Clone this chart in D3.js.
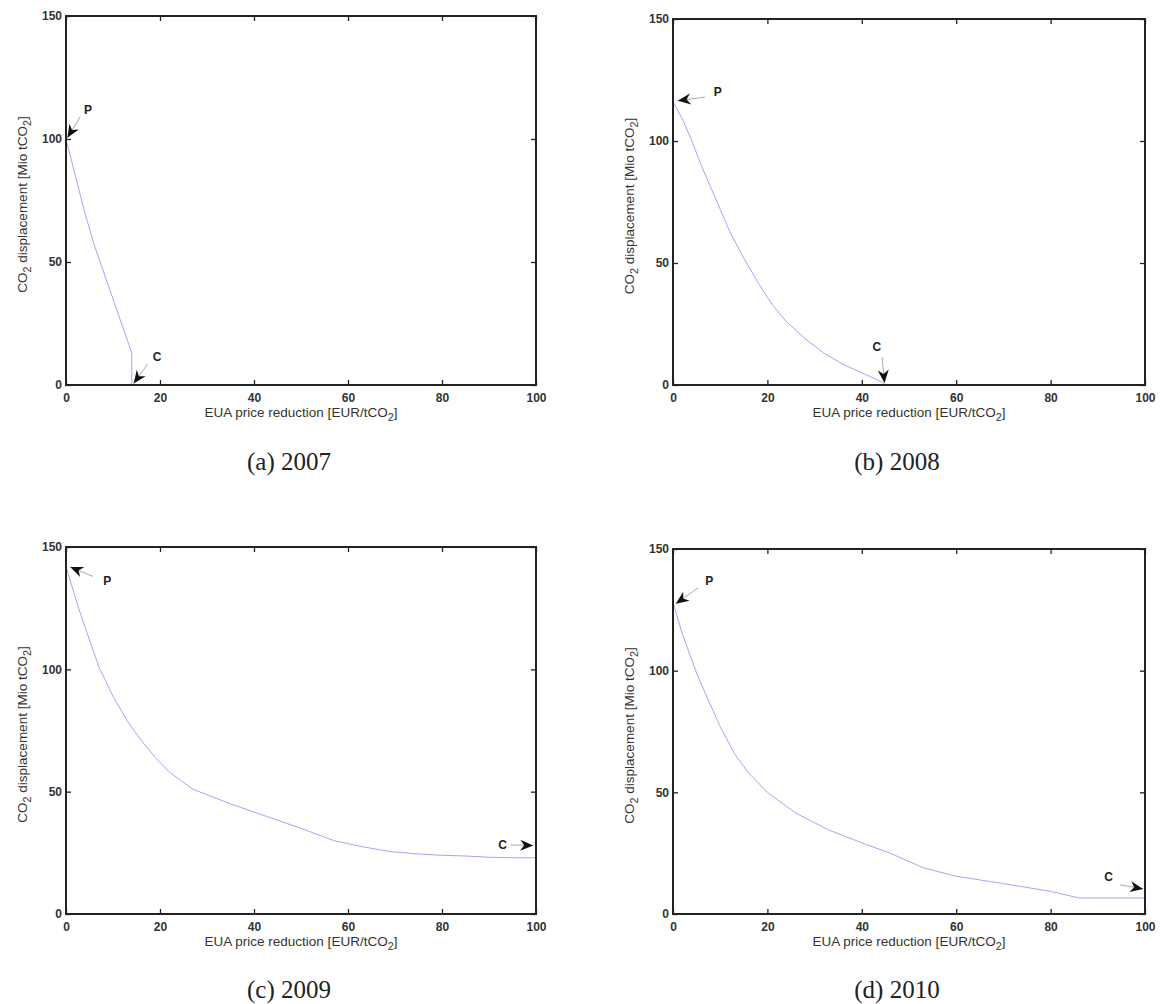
<!DOCTYPE html>
<html>
<head>
<meta charset="utf-8">
<script src="https://cdn.jsdelivr.net/npm/d3@7"></script>
<style>
  body { margin: 0; background: #fff; }
  svg { display: block; }
</style>
</head>
<body>
<svg id="chart" width="1161" height="1004"></svg>
<script>
// data
const xTicks = [0, 20, 40, 60, 80, 100];
const yTicks = [0, 50, 100, 150];
const captions = ['(a) 2007', '(b) 2008', '(c) 2009', '(d) 2010'];

const x2007 = [0, 2, 4, 6, 8, 10, 12, 14, 14];
const y2007 = [100, 85, 70, 57, 46, 35, 24, 13, 0];

const x2008 = [0, 2, 4, 6, 8, 10, 12, 15, 18, 21, 24, 28, 32, 36, 40, 44, 45];
const y2008 = [116, 109, 100, 90, 81, 72, 63, 52, 42, 33, 26, 19, 13, 8.5, 5, 1.5, 0];

const x2009 = [0, 2.5, 5, 7, 10, 13, 16, 19, 22, 27, 35, 41, 50, 57, 63, 69, 75, 80, 85, 90, 95, 100];
const y2009 = [142, 126, 112, 101, 89, 79, 71, 64, 58, 51, 45, 41, 35, 30, 27.5, 25.5, 24.5, 24, 23.7, 23.2, 23, 23];

const x2010 = [0, 2, 5, 7, 10, 13, 16, 20, 26, 33, 41, 46, 53, 60, 70, 80, 86, 100];
const y2010 = [128, 115, 99, 90, 77, 66, 58, 50, 41.5, 34.5, 28.5, 25, 19, 15.5, 12.5, 9.3, 6.6, 6.6];

// annotation arrows: [label x, label y, tail x, tail y, head x, head y] in data units
const notesP = [
  [4.7, 112, 3, 109, 0.3, 100.5],
  [9.5, 120, 6.8, 118, 1.0, 116.5],
  [8.8, 136, 5.7, 138, 0.9, 141.8],
  [7.7, 137, 5.3, 134, 0.6, 127.5]
];
const notesC = [
  [19.4, 11.4, 17.4, 8.6, 14.4, 0.6],
  [43.2, 15.6, 44.3, 11.5, 44.8, 0.8],
  [92.9, 28.4, 94.6, 28.2, 99.4, 28],
  [92.3, 15.4, 94.7, 12, 99.6, 10.3]
];

const series = [[x2007, y2007], [x2008, y2008], [x2009, y2009], [x2010, y2010]];

// panel frames in px
const frames = [
  { left: 66, top: 16, right: 536, bottom: 385, capY: 462 },
  { left: 673, top: 19, right: 1145, bottom: 385, capY: 462 },
  { left: 66, top: 547, right: 536, bottom: 914, capY: 990 },
  { left: 673, top: 549, right: 1145, bottom: 914, capY: 990 }
];

const svg = d3.select('#chart');
const sans = 'Liberation Sans, Arial, Helvetica, sans-serif';

function subText(sel, parts) {
  // parts: [text, isSub]
  parts.forEach(([t, sub]) => {
    const ts = sel.append('tspan').text(t);
    if (sub) ts.attr('font-size', '0.8em').attr('dy', '0.35em');
    else if (sel.node().childNodes.length > 1) ts.attr('dy', '-0.28em');
  });
}

function arrow(g, x, y, n) {
  const [lx, ly, tx, ty, hx, hy] = n;
  const x1 = x(tx), y1 = y(ty), x2 = x(hx), y2 = y(hy);
  const ang = Math.atan2(y2 - y1, x2 - x1) * 180 / Math.PI;
  g.append('line')
    .attr('x1', x1).attr('y1', y1).attr('x2', x2).attr('y2', y2)
    .attr('stroke', '#aaa').attr('stroke-width', 1);
  g.append('path')
    .attr('d', 'M0,0 L-13,-5.5 L-9,0 L-13,5.5 Z')
    .attr('fill', '#111')
    .attr('transform', `translate(${x2},${y2}) rotate(${ang})`);
}

frames.forEach((f, i) => {
  const x = d3.scaleLinear().domain([0, 100]).range([f.left, f.right]);
  const y = d3.scaleLinear().domain([0, 150]).range([f.bottom, f.top]);
  const g = svg.append('g');
  const tickLen = 5;

  // curve
  const [xs, ys] = series[i];
  g.append('path')
    .datum(d3.zip(xs, ys))
    .attr('fill', 'none')
    .attr('stroke', '#a4a4ff')
    .attr('stroke-width', 1)
    .attr('d', d3.line().x(d => x(d[0])).y(d => y(d[1])));

  // axes: bottom, top, left, right with inward ticks
  const axB = g.append('g').attr('transform', `translate(0,${f.bottom})`)
    .call(d3.axisBottom(x).tickValues(xTicks).tickSize(-tickLen).tickPadding(8));
  const axT = g.append('g').attr('transform', `translate(0,${f.top})`)
    .call(d3.axisTop(x).tickValues(xTicks).tickSize(-tickLen).tickFormat(''));
  const axL = g.append('g').attr('transform', `translate(${f.left},0)`)
    .call(d3.axisLeft(y).tickValues(yTicks).tickSize(-tickLen).tickPadding(4));
  const axR = g.append('g').attr('transform', `translate(${f.right},0)`)
    .call(d3.axisRight(y).tickValues(yTicks).tickSize(-tickLen).tickFormat(''));

  [axB, axT, axL, axR].forEach(a => {
    a.select('.domain').remove();
    a.selectAll('.tick line').attr('stroke', '#222').attr('stroke-width', 1.3);
    a.selectAll('.tick text')
      .attr('font-family', sans).attr('font-size', 12).attr('font-weight', 'bold')
      .attr('fill', '#333');
  });

  g.append('rect')
    .attr('x', f.left).attr('y', f.top)
    .attr('width', f.right - f.left).attr('height', f.bottom - f.top)
    .attr('fill', 'none').attr('stroke', '#222').attr('stroke-width', 2);

  // axis titles
  const xl = g.append('text')
    .attr('x', (f.left + f.right) / 2).attr('y', f.bottom + 32)
    .attr('text-anchor', 'middle')
    .attr('font-family', sans).attr('font-size', 13.5).attr('fill', '#333');
  subText(xl, [['EUA price reduction [EUR/tCO', false], ['2', true], [']', false]]);

  const yl = g.append('text')
    .attr('transform', `translate(${f.left - 39},${(f.top + f.bottom) / 2 + 4}) rotate(-90)`)
    .attr('text-anchor', 'middle')
    .attr('font-family', sans).attr('font-size', 13.5).attr('fill', '#333');
  subText(yl, [['CO', false], ['2', true], [' displacement [Mio tCO', false], ['2', true], [']', false]]);

  // caption
  g.append('text')
    .attr('x', (f.left + f.right) / 2 - 12).attr('y', f.capY + 8)
    .attr('text-anchor', 'middle')
    .attr('font-family', 'Liberation Serif, DejaVu Serif, serif')
    .attr('font-size', 25).attr('fill', '#222')
    .text(captions[i]);

  // P and C annotations
  [[notesP[i], 'P'], [notesC[i], 'C']].forEach(([n, lab]) => {
    arrow(g, x, y, n);
    g.append('text')
      .attr('x', x(n[0])).attr('y', y(n[1]))
      .attr('text-anchor', 'middle').attr('dy', '0.35em')
      .attr('font-family', sans).attr('font-size', 12).attr('font-weight', 'bold')
      .attr('fill', '#222')
      .text(lab);
  });
});
</script>
</body>
</html>
